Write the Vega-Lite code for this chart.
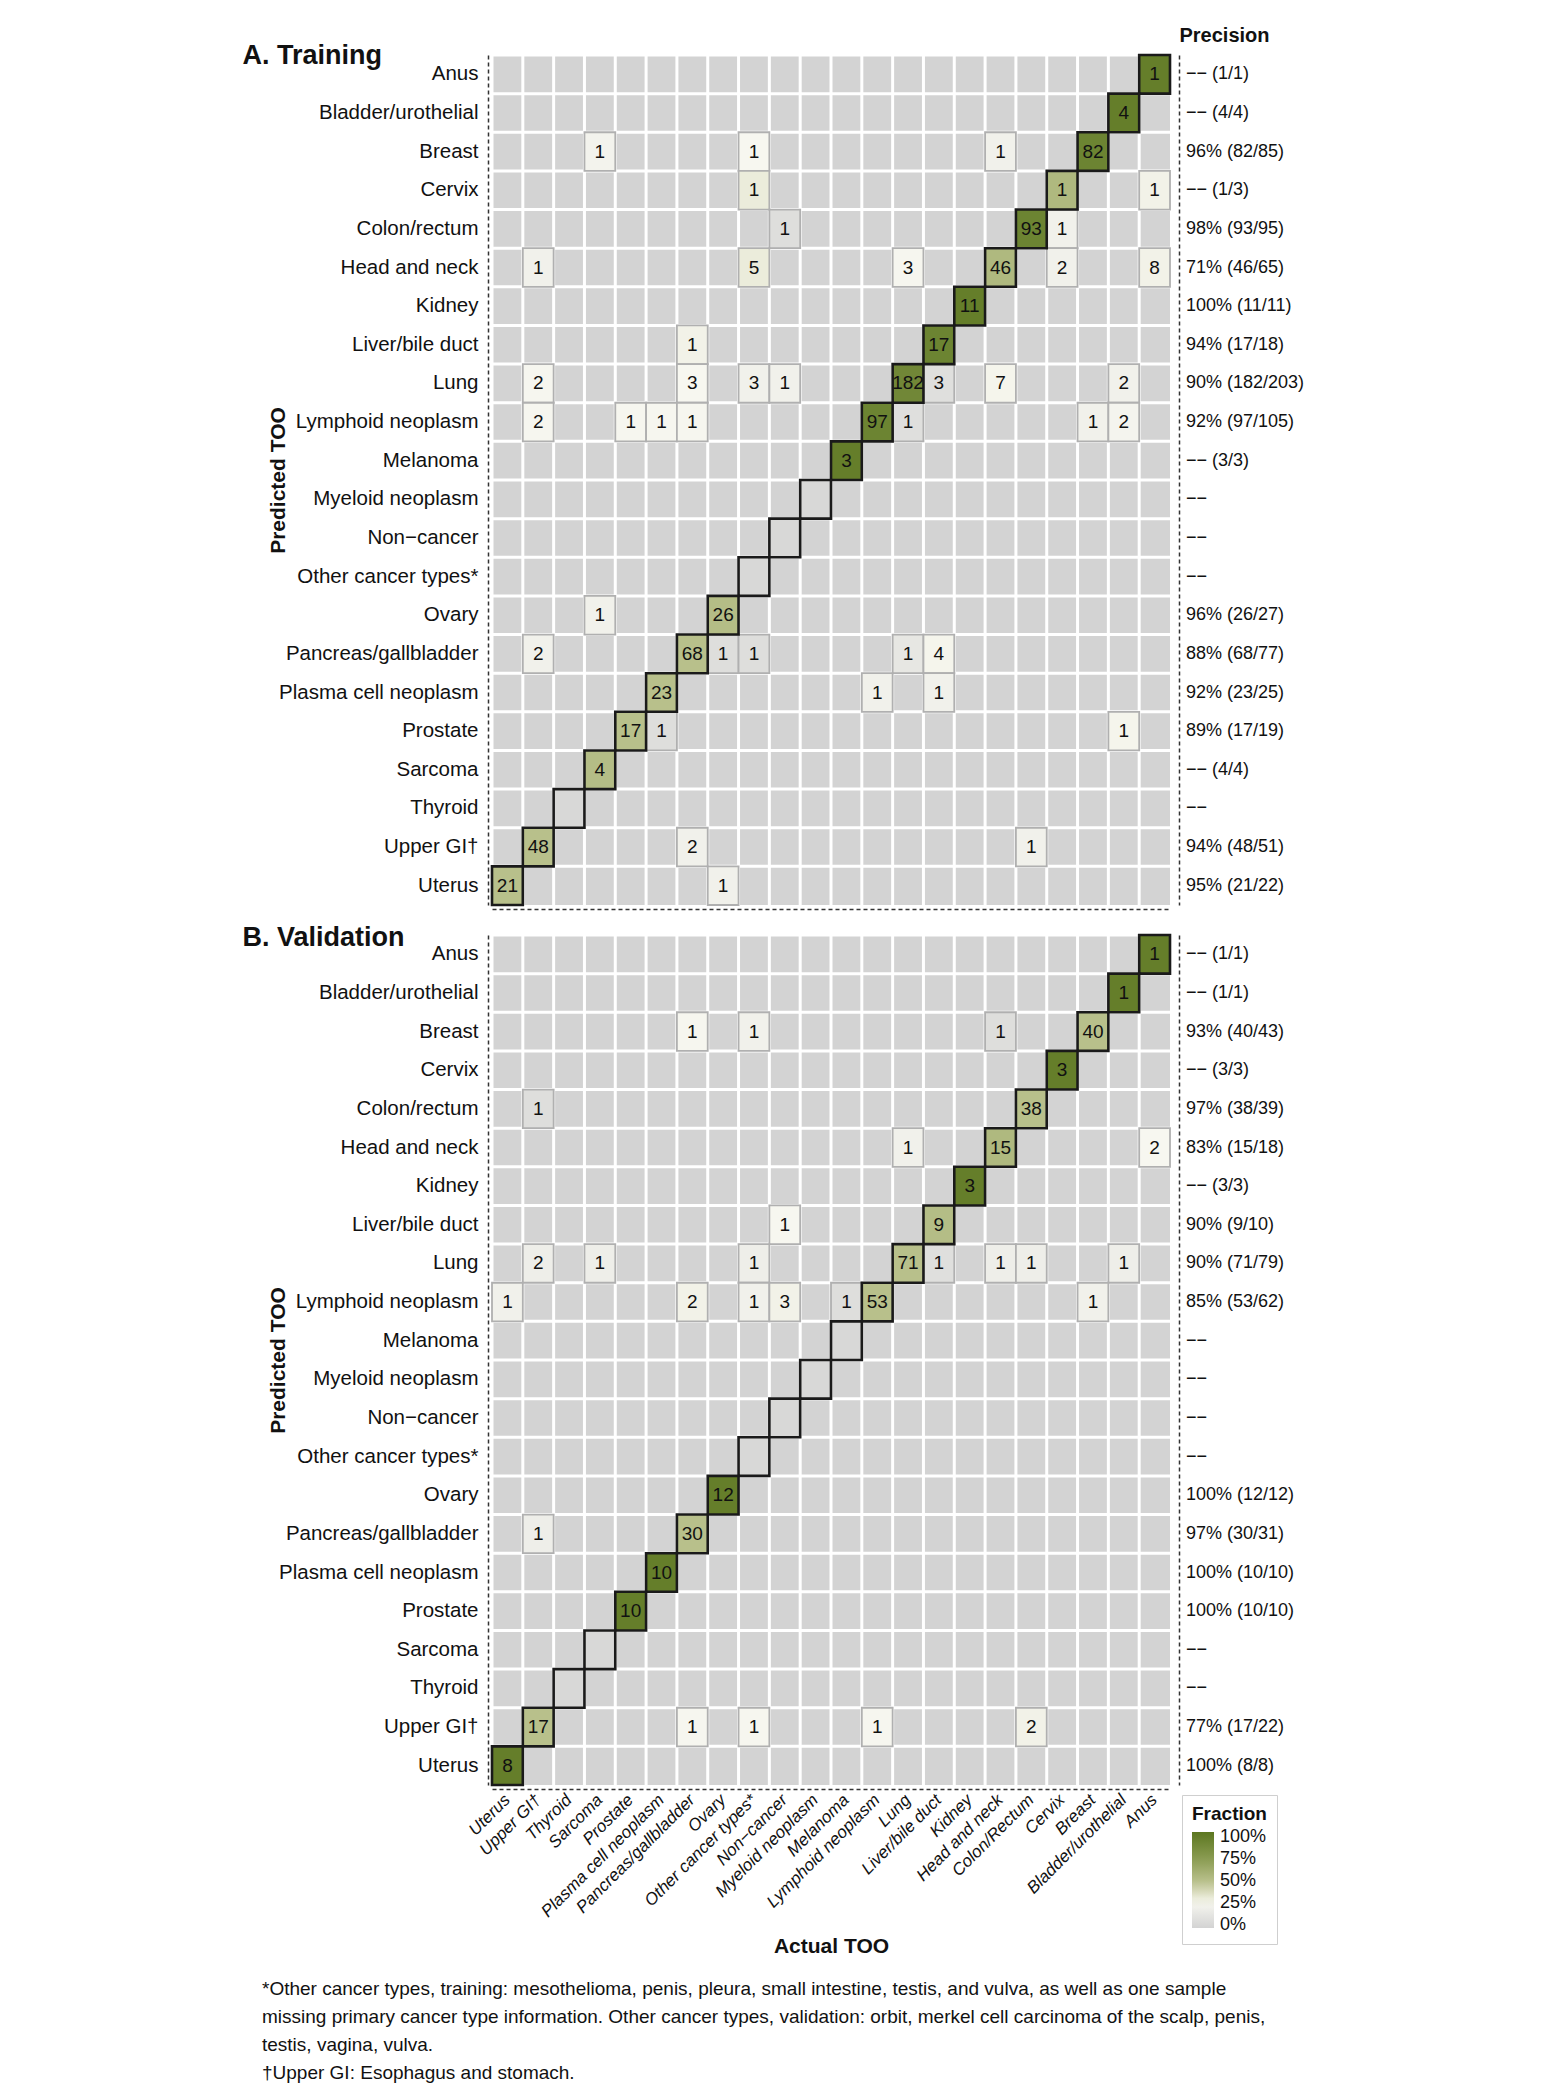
{
  "$schema": "https://vega.github.io/schema/vega-lite/v6.json",
  "padding": {"left": 242, "top": 25, "right": 0, "bottom": 0},
  "background": "white",
  "config": {
    "font": "Liberation Sans",
    "view": {"stroke": null},
    "axis": {"labelColor": "#111111", "titleColor": "#111111"},
    "text": {"color": "#111111"}
  },
  "datasets": {
    "cols": [
      {"actual": "Uterus"}, {"actual": "Upper GI†"}, {"actual": "Thyroid"}, {"actual": "Sarcoma"}, {"actual": "Prostate"}, {"actual": "Plasma cell neoplasm"}, {"actual": "Pancreas/gallbladder"}, {"actual": "Ovary"}, {"actual": "Other cancer types*"}, {"actual": "Non−cancer"}, {"actual": "Myeloid neoplasm"}, {"actual": "Melanoma"}, {"actual": "Lymphoid neoplasm"}, {"actual": "Lung"}, {"actual": "Liver/bile duct"}, {"actual": "Kidney"}, {"actual": "Head and neck"}, {"actual": "Colon/Rectum"}, {"actual": "Cervix"}, {"actual": "Breast"}, {"actual": "Bladder/urothelial"}, {"actual": "Anus"}
    ],
    "rows": [
      {"predicted": "Anus"}, {"predicted": "Bladder/urothelial"}, {"predicted": "Breast"}, {"predicted": "Cervix"}, {"predicted": "Colon/rectum"}, {"predicted": "Head and neck"}, {"predicted": "Kidney"}, {"predicted": "Liver/bile duct"}, {"predicted": "Lung"}, {"predicted": "Lymphoid neoplasm"}, {"predicted": "Melanoma"}, {"predicted": "Myeloid neoplasm"}, {"predicted": "Non−cancer"}, {"predicted": "Other cancer types*"}, {"predicted": "Ovary"}, {"predicted": "Pancreas/gallbladder"}, {"predicted": "Plasma cell neoplasm"}, {"predicted": "Prostate"}, {"predicted": "Sarcoma"}, {"predicted": "Thyroid"}, {"predicted": "Upper GI†"}, {"predicted": "Uterus"}
    ],
    "train": [
      {"predicted": "Anus", "actual": "Anus", "count": 1, "fraction": 1, "diag": true},
      {"predicted": "Bladder/urothelial", "actual": "Bladder/urothelial", "count": 4, "fraction": 1, "diag": true},
      {"predicted": "Breast", "actual": "Sarcoma", "count": 1, "fraction": 0.22, "diag": false},
      {"predicted": "Breast", "actual": "Other cancer types*", "count": 1, "fraction": 0.25, "diag": false},
      {"predicted": "Breast", "actual": "Head and neck", "count": 1, "fraction": 0.2, "diag": false},
      {"predicted": "Breast", "actual": "Breast", "count": 82, "fraction": 0.95, "diag": true},
      {"predicted": "Cervix", "actual": "Other cancer types*", "count": 1, "fraction": 0.3, "diag": false},
      {"predicted": "Cervix", "actual": "Cervix", "count": 1, "fraction": 0.55, "diag": true},
      {"predicted": "Cervix", "actual": "Anus", "count": 1, "fraction": 0.27, "diag": false},
      {"predicted": "Colon/rectum", "actual": "Non−cancer", "count": 1, "fraction": 0.05, "diag": false},
      {"predicted": "Colon/rectum", "actual": "Colon/Rectum", "count": 93, "fraction": 0.95, "diag": true},
      {"predicted": "Colon/rectum", "actual": "Cervix", "count": 1, "fraction": 0.2, "diag": false},
      {"predicted": "Head and neck", "actual": "Upper GI†", "count": 1, "fraction": 0.2, "diag": false},
      {"predicted": "Head and neck", "actual": "Other cancer types*", "count": 5, "fraction": 0.3, "diag": false},
      {"predicted": "Head and neck", "actual": "Lung", "count": 3, "fraction": 0.24, "diag": false},
      {"predicted": "Head and neck", "actual": "Head and neck", "count": 46, "fraction": 0.55, "diag": true},
      {"predicted": "Head and neck", "actual": "Cervix", "count": 2, "fraction": 0.2, "diag": false},
      {"predicted": "Head and neck", "actual": "Anus", "count": 8, "fraction": 0.27, "diag": false},
      {"predicted": "Kidney", "actual": "Kidney", "count": 11, "fraction": 1, "diag": true},
      {"predicted": "Liver/bile duct", "actual": "Pancreas/gallbladder", "count": 1, "fraction": 0.27, "diag": false},
      {"predicted": "Liver/bile duct", "actual": "Liver/bile duct", "count": 17, "fraction": 0.95, "diag": true},
      {"predicted": "Lung", "actual": "Upper GI†", "count": 2, "fraction": 0.24, "diag": false},
      {"predicted": "Lung", "actual": "Pancreas/gallbladder", "count": 3, "fraction": 0.25, "diag": false},
      {"predicted": "Lung", "actual": "Other cancer types*", "count": 3, "fraction": 0.2, "diag": false},
      {"predicted": "Lung", "actual": "Non−cancer", "count": 1, "fraction": 0.2, "diag": false},
      {"predicted": "Lung", "actual": "Lung", "count": 182, "fraction": 0.92, "diag": true},
      {"predicted": "Lung", "actual": "Liver/bile duct", "count": 3, "fraction": 0.06, "diag": false},
      {"predicted": "Lung", "actual": "Head and neck", "count": 7, "fraction": 0.26, "diag": false},
      {"predicted": "Lung", "actual": "Bladder/urothelial", "count": 2, "fraction": 0.2, "diag": false},
      {"predicted": "Lymphoid neoplasm", "actual": "Upper GI†", "count": 2, "fraction": 0.24, "diag": false},
      {"predicted": "Lymphoid neoplasm", "actual": "Prostate", "count": 1, "fraction": 0.24, "diag": false},
      {"predicted": "Lymphoid neoplasm", "actual": "Plasma cell neoplasm", "count": 1, "fraction": 0.24, "diag": false},
      {"predicted": "Lymphoid neoplasm", "actual": "Pancreas/gallbladder", "count": 1, "fraction": 0.24, "diag": false},
      {"predicted": "Lymphoid neoplasm", "actual": "Lymphoid neoplasm", "count": 97, "fraction": 0.95, "diag": true},
      {"predicted": "Lymphoid neoplasm", "actual": "Lung", "count": 1, "fraction": 0.06, "diag": false},
      {"predicted": "Lymphoid neoplasm", "actual": "Breast", "count": 1, "fraction": 0.2, "diag": false},
      {"predicted": "Lymphoid neoplasm", "actual": "Bladder/urothelial", "count": 2, "fraction": 0.23, "diag": false},
      {"predicted": "Melanoma", "actual": "Melanoma", "count": 3, "fraction": 1, "diag": true},
      {"predicted": "Myeloid neoplasm", "actual": "Myeloid neoplasm", "count": null, "fraction": 0, "diag": true},
      {"predicted": "Non−cancer", "actual": "Non−cancer", "count": null, "fraction": 0, "diag": true},
      {"predicted": "Other cancer types*", "actual": "Other cancer types*", "count": null, "fraction": 0, "diag": true},
      {"predicted": "Ovary", "actual": "Sarcoma", "count": 1, "fraction": 0.2, "diag": false},
      {"predicted": "Ovary", "actual": "Ovary", "count": 26, "fraction": 0.52, "diag": true},
      {"predicted": "Pancreas/gallbladder", "actual": "Upper GI†", "count": 2, "fraction": 0.2, "diag": false},
      {"predicted": "Pancreas/gallbladder", "actual": "Pancreas/gallbladder", "count": 68, "fraction": 0.5, "diag": true},
      {"predicted": "Pancreas/gallbladder", "actual": "Ovary", "count": 1, "fraction": 0.05, "diag": false},
      {"predicted": "Pancreas/gallbladder", "actual": "Other cancer types*", "count": 1, "fraction": 0.05, "diag": false},
      {"predicted": "Pancreas/gallbladder", "actual": "Lung", "count": 1, "fraction": 0.12, "diag": false},
      {"predicted": "Pancreas/gallbladder", "actual": "Liver/bile duct", "count": 4, "fraction": 0.26, "diag": false},
      {"predicted": "Plasma cell neoplasm", "actual": "Plasma cell neoplasm", "count": 23, "fraction": 0.5, "diag": true},
      {"predicted": "Plasma cell neoplasm", "actual": "Lymphoid neoplasm", "count": 1, "fraction": 0.2, "diag": false},
      {"predicted": "Plasma cell neoplasm", "actual": "Liver/bile duct", "count": 1, "fraction": 0.2, "diag": false},
      {"predicted": "Prostate", "actual": "Prostate", "count": 17, "fraction": 0.5, "diag": true},
      {"predicted": "Prostate", "actual": "Plasma cell neoplasm", "count": 1, "fraction": 0.05, "diag": false},
      {"predicted": "Prostate", "actual": "Bladder/urothelial", "count": 1, "fraction": 0.26, "diag": false},
      {"predicted": "Sarcoma", "actual": "Sarcoma", "count": 4, "fraction": 0.52, "diag": true},
      {"predicted": "Thyroid", "actual": "Thyroid", "count": null, "fraction": 0, "diag": true},
      {"predicted": "Upper GI†", "actual": "Upper GI†", "count": 48, "fraction": 0.5, "diag": true},
      {"predicted": "Upper GI†", "actual": "Pancreas/gallbladder", "count": 2, "fraction": 0.2, "diag": false},
      {"predicted": "Upper GI†", "actual": "Colon/Rectum", "count": 1, "fraction": 0.2, "diag": false},
      {"predicted": "Uterus", "actual": "Uterus", "count": 21, "fraction": 0.5, "diag": true},
      {"predicted": "Uterus", "actual": "Ovary", "count": 1, "fraction": 0.2, "diag": false}
    ],
    "val": [
      {"predicted": "Anus", "actual": "Anus", "count": 1, "fraction": 1, "diag": true},
      {"predicted": "Bladder/urothelial", "actual": "Bladder/urothelial", "count": 1, "fraction": 1, "diag": true},
      {"predicted": "Breast", "actual": "Pancreas/gallbladder", "count": 1, "fraction": 0.24, "diag": false},
      {"predicted": "Breast", "actual": "Other cancer types*", "count": 1, "fraction": 0.2, "diag": false},
      {"predicted": "Breast", "actual": "Head and neck", "count": 1, "fraction": 0.05, "diag": false},
      {"predicted": "Breast", "actual": "Breast", "count": 40, "fraction": 0.5, "diag": true},
      {"predicted": "Cervix", "actual": "Cervix", "count": 3, "fraction": 1, "diag": true},
      {"predicted": "Colon/rectum", "actual": "Upper GI†", "count": 1, "fraction": 0.05, "diag": false},
      {"predicted": "Colon/rectum", "actual": "Colon/Rectum", "count": 38, "fraction": 0.5, "diag": true},
      {"predicted": "Head and neck", "actual": "Lung", "count": 1, "fraction": 0.2, "diag": false},
      {"predicted": "Head and neck", "actual": "Head and neck", "count": 15, "fraction": 0.55, "diag": true},
      {"predicted": "Head and neck", "actual": "Anus", "count": 2, "fraction": 0.25, "diag": false},
      {"predicted": "Kidney", "actual": "Kidney", "count": 3, "fraction": 1, "diag": true},
      {"predicted": "Liver/bile duct", "actual": "Non−cancer", "count": 1, "fraction": 0.25, "diag": false},
      {"predicted": "Liver/bile duct", "actual": "Liver/bile duct", "count": 9, "fraction": 0.52, "diag": true},
      {"predicted": "Lung", "actual": "Upper GI†", "count": 2, "fraction": 0.18, "diag": false},
      {"predicted": "Lung", "actual": "Sarcoma", "count": 1, "fraction": 0.18, "diag": false},
      {"predicted": "Lung", "actual": "Other cancer types*", "count": 1, "fraction": 0.18, "diag": false},
      {"predicted": "Lung", "actual": "Lung", "count": 71, "fraction": 0.5, "diag": true},
      {"predicted": "Lung", "actual": "Liver/bile duct", "count": 1, "fraction": 0.06, "diag": false},
      {"predicted": "Lung", "actual": "Head and neck", "count": 1, "fraction": 0.18, "diag": false},
      {"predicted": "Lung", "actual": "Colon/Rectum", "count": 1, "fraction": 0.18, "diag": false},
      {"predicted": "Lung", "actual": "Bladder/urothelial", "count": 1, "fraction": 0.18, "diag": false},
      {"predicted": "Lymphoid neoplasm", "actual": "Uterus", "count": 1, "fraction": 0.2, "diag": false},
      {"predicted": "Lymphoid neoplasm", "actual": "Pancreas/gallbladder", "count": 2, "fraction": 0.27, "diag": false},
      {"predicted": "Lymphoid neoplasm", "actual": "Other cancer types*", "count": 1, "fraction": 0.2, "diag": false},
      {"predicted": "Lymphoid neoplasm", "actual": "Non−cancer", "count": 3, "fraction": 0.27, "diag": false},
      {"predicted": "Lymphoid neoplasm", "actual": "Melanoma", "count": 1, "fraction": 0.05, "diag": false},
      {"predicted": "Lymphoid neoplasm", "actual": "Lymphoid neoplasm", "count": 53, "fraction": 0.5, "diag": true},
      {"predicted": "Lymphoid neoplasm", "actual": "Breast", "count": 1, "fraction": 0.2, "diag": false},
      {"predicted": "Melanoma", "actual": "Melanoma", "count": null, "fraction": 0, "diag": true},
      {"predicted": "Myeloid neoplasm", "actual": "Myeloid neoplasm", "count": null, "fraction": 0, "diag": true},
      {"predicted": "Non−cancer", "actual": "Non−cancer", "count": null, "fraction": 0, "diag": true},
      {"predicted": "Other cancer types*", "actual": "Other cancer types*", "count": null, "fraction": 0, "diag": true},
      {"predicted": "Ovary", "actual": "Ovary", "count": 12, "fraction": 1, "diag": true},
      {"predicted": "Pancreas/gallbladder", "actual": "Upper GI†", "count": 1, "fraction": 0.18, "diag": false},
      {"predicted": "Pancreas/gallbladder", "actual": "Pancreas/gallbladder", "count": 30, "fraction": 0.5, "diag": true},
      {"predicted": "Plasma cell neoplasm", "actual": "Plasma cell neoplasm", "count": 10, "fraction": 1, "diag": true},
      {"predicted": "Prostate", "actual": "Prostate", "count": 10, "fraction": 1, "diag": true},
      {"predicted": "Sarcoma", "actual": "Sarcoma", "count": null, "fraction": 0, "diag": true},
      {"predicted": "Thyroid", "actual": "Thyroid", "count": null, "fraction": 0, "diag": true},
      {"predicted": "Upper GI†", "actual": "Upper GI†", "count": 17, "fraction": 0.5, "diag": true},
      {"predicted": "Upper GI†", "actual": "Pancreas/gallbladder", "count": 1, "fraction": 0.24, "diag": false},
      {"predicted": "Upper GI†", "actual": "Other cancer types*", "count": 1, "fraction": 0.24, "diag": false},
      {"predicted": "Upper GI†", "actual": "Lymphoid neoplasm", "count": 1, "fraction": 0.24, "diag": false},
      {"predicted": "Upper GI†", "actual": "Colon/Rectum", "count": 2, "fraction": 0.27, "diag": false},
      {"predicted": "Uterus", "actual": "Uterus", "count": 8, "fraction": 1, "diag": true}
    ],
    "ptrain": [
      {"predicted": "Anus", "column": "Precision", "precision": "−− (1/1)"},
      {"predicted": "Bladder/urothelial", "column": "Precision", "precision": "−− (4/4)"},
      {"predicted": "Breast", "column": "Precision", "precision": "96% (82/85)"},
      {"predicted": "Cervix", "column": "Precision", "precision": "−− (1/3)"},
      {"predicted": "Colon/rectum", "column": "Precision", "precision": "98% (93/95)"},
      {"predicted": "Head and neck", "column": "Precision", "precision": "71% (46/65)"},
      {"predicted": "Kidney", "column": "Precision", "precision": "100% (11/11)"},
      {"predicted": "Liver/bile duct", "column": "Precision", "precision": "94% (17/18)"},
      {"predicted": "Lung", "column": "Precision", "precision": "90% (182/203)"},
      {"predicted": "Lymphoid neoplasm", "column": "Precision", "precision": "92% (97/105)"},
      {"predicted": "Melanoma", "column": "Precision", "precision": "−− (3/3)"},
      {"predicted": "Myeloid neoplasm", "column": "Precision", "precision": "−−"},
      {"predicted": "Non−cancer", "column": "Precision", "precision": "−−"},
      {"predicted": "Other cancer types*", "column": "Precision", "precision": "−−"},
      {"predicted": "Ovary", "column": "Precision", "precision": "96% (26/27)"},
      {"predicted": "Pancreas/gallbladder", "column": "Precision", "precision": "88% (68/77)"},
      {"predicted": "Plasma cell neoplasm", "column": "Precision", "precision": "92% (23/25)"},
      {"predicted": "Prostate", "column": "Precision", "precision": "89% (17/19)"},
      {"predicted": "Sarcoma", "column": "Precision", "precision": "−− (4/4)"},
      {"predicted": "Thyroid", "column": "Precision", "precision": "−−"},
      {"predicted": "Upper GI†", "column": "Precision", "precision": "94% (48/51)"},
      {"predicted": "Uterus", "column": "Precision", "precision": "95% (21/22)"}
    ],
    "pval": [
      {"predicted": "Anus", "column": "Precision", "precision": "−− (1/1)"},
      {"predicted": "Bladder/urothelial", "column": "Precision", "precision": "−− (1/1)"},
      {"predicted": "Breast", "column": "Precision", "precision": "93% (40/43)"},
      {"predicted": "Cervix", "column": "Precision", "precision": "−− (3/3)"},
      {"predicted": "Colon/rectum", "column": "Precision", "precision": "97% (38/39)"},
      {"predicted": "Head and neck", "column": "Precision", "precision": "83% (15/18)"},
      {"predicted": "Kidney", "column": "Precision", "precision": "−− (3/3)"},
      {"predicted": "Liver/bile duct", "column": "Precision", "precision": "90% (9/10)"},
      {"predicted": "Lung", "column": "Precision", "precision": "90% (71/79)"},
      {"predicted": "Lymphoid neoplasm", "column": "Precision", "precision": "85% (53/62)"},
      {"predicted": "Melanoma", "column": "Precision", "precision": "−−"},
      {"predicted": "Myeloid neoplasm", "column": "Precision", "precision": "−−"},
      {"predicted": "Non−cancer", "column": "Precision", "precision": "−−"},
      {"predicted": "Other cancer types*", "column": "Precision", "precision": "−−"},
      {"predicted": "Ovary", "column": "Precision", "precision": "100% (12/12)"},
      {"predicted": "Pancreas/gallbladder", "column": "Precision", "precision": "97% (30/31)"},
      {"predicted": "Plasma cell neoplasm", "column": "Precision", "precision": "100% (10/10)"},
      {"predicted": "Prostate", "column": "Precision", "precision": "100% (10/10)"},
      {"predicted": "Sarcoma", "column": "Precision", "precision": "−−"},
      {"predicted": "Thyroid", "column": "Precision", "precision": "−−"},
      {"predicted": "Upper GI†", "column": "Precision", "precision": "77% (17/22)"},
      {"predicted": "Uterus", "column": "Precision", "precision": "100% (8/8)"}
    ]
  },
  "title": {
    "text": [
      "*Other cancer types, training: mesothelioma, penis, pleura, small intestine, testis, and vulva, as well as one sample",
      "missing primary cancer type information. Other cancer types, validation: orbit, merkel cell carcinoma of the scalp, penis,",
      "testis, vagina, vulva.",
      "†Upper GI: Esophagus and stomach."
    ],
    "orient": "bottom",
    "anchor": "start",
    "frame": "bounds",
    "fontSize": 19,
    "fontWeight": "normal",
    "lineHeight": 28,
    "offset": 23,
    "dx": 20,
    "color": "#111111"
  },
  "spacing": 14,
  "vconcat": [
    {
      "spacing": 7,
      "hconcat": [
        {
          "width": 678,
          "height": 850,
          "view": {"fill": "#d3d3d3", "stroke": null},
          "resolve": {"axis": {"x": "independent", "y": "independent"}},
          "layer": [
            {
              "data": {"name": "cols"},
              "mark": {"type": "rule", "color": "white", "strokeWidth": 3},
              "encoding": {
                "x": {"field": "actual", "type": "nominal", "bandPosition": 0,
                  "scale": {"type": "band", "domain": ["Uterus", "Upper GI†", "Thyroid", "Sarcoma", "Prostate", "Plasma cell neoplasm", "Pancreas/gallbladder", "Ovary", "Other cancer types*", "Non−cancer", "Myeloid neoplasm", "Melanoma", "Lymphoid neoplasm", "Lung", "Liver/bile duct", "Kidney", "Head and neck", "Colon/Rectum", "Cervix", "Breast", "Bladder/urothelial", "Anus"], "paddingInner": 0, "paddingOuter": 0},
                  "axis": {"orient": "bottom", "labels": false, "ticks": false, "title": null, "grid": false, "domain": true, "domainDash": [4, 3], "domainColor": "#333333", "domainWidth": 1.5, "offset": 4}}
              }
            },
            {
              "data": {"name": "rows"},
              "mark": {"type": "rule", "color": "white", "strokeWidth": 3},
              "encoding": {
                "y": {"field": "predicted", "type": "nominal", "bandPosition": 0,
                  "scale": {"type": "band", "domain": ["Anus", "Bladder/urothelial", "Breast", "Cervix", "Colon/rectum", "Head and neck", "Kidney", "Liver/bile duct", "Lung", "Lymphoid neoplasm", "Melanoma", "Myeloid neoplasm", "Non−cancer", "Other cancer types*", "Ovary", "Pancreas/gallbladder", "Plasma cell neoplasm", "Prostate", "Sarcoma", "Thyroid", "Upper GI†", "Uterus"], "paddingInner": 0, "paddingOuter": 0},
                  "axis": {"orient": "left", "title": "Predicted TOO", "titleFontSize": 21, "titleFontWeight": "bold", "titlePadding": 0, "labelFontSize": 20.5, "labelLimit": 0, "labelPadding": 10, "ticks": false, "grid": false, "domain": true, "domainDash": [4, 3], "domainColor": "#333333", "domainWidth": 1.5, "offset": 4}}
              }
            },
            {
              "data": {"name": "train"},
              "mark": {"type": "rect"},
              "encoding": {
                "x": {"field": "actual", "type": "nominal", "axis": null,
                  "scale": {"type": "band", "domain": ["Uterus", "Upper GI†", "Thyroid", "Sarcoma", "Prostate", "Plasma cell neoplasm", "Pancreas/gallbladder", "Ovary", "Other cancer types*", "Non−cancer", "Myeloid neoplasm", "Melanoma", "Lymphoid neoplasm", "Lung", "Liver/bile duct", "Kidney", "Head and neck", "Colon/Rectum", "Cervix", "Breast", "Bladder/urothelial", "Anus"], "paddingInner": 0, "paddingOuter": 0}},
                "y": {"field": "predicted", "type": "nominal", "axis": null,
                  "scale": {"type": "band", "domain": ["Anus", "Bladder/urothelial", "Breast", "Cervix", "Colon/rectum", "Head and neck", "Kidney", "Liver/bile duct", "Lung", "Lymphoid neoplasm", "Melanoma", "Myeloid neoplasm", "Non−cancer", "Other cancer types*", "Ovary", "Pancreas/gallbladder", "Plasma cell neoplasm", "Prostate", "Sarcoma", "Thyroid", "Upper GI†", "Uterus"], "paddingInner": 0, "paddingOuter": 0}},
                "color": {"field": "fraction", "type": "quantitative", "scale": {"domain": [-0.04, 0.25, 0.5, 0.75, 1.06], "range": ["#d3d3d3", "#f7f7f0", "#b8c08b", "#8a9c52", "#5c7720"]}},
                "stroke": {"condition": {"test": "datum.diag", "value": "#1a1a1a"}, "value": "#b0b0b0"},
                "strokeWidth": {"condition": {"test": "datum.diag", "value": 2.6}, "value": 1.8},
                "order": {"field": "diag"}
              }
            },
            {
              "data": {"name": "train"},
              "transform": [{"filter": "datum.count != null"}],
              "mark": {"type": "text", "fontSize": 19},
              "encoding": {
                "x": {"field": "actual", "type": "nominal",
                  "scale": {"type": "band", "domain": ["Uterus", "Upper GI†", "Thyroid", "Sarcoma", "Prostate", "Plasma cell neoplasm", "Pancreas/gallbladder", "Ovary", "Other cancer types*", "Non−cancer", "Myeloid neoplasm", "Melanoma", "Lymphoid neoplasm", "Lung", "Liver/bile duct", "Kidney", "Head and neck", "Colon/Rectum", "Cervix", "Breast", "Bladder/urothelial", "Anus"], "paddingInner": 0, "paddingOuter": 0},
                  "axis": {"orient": "top", "labels": false, "ticks": false, "domain": false, "grid": false, "title": "A. Training", "titleFontSize": 27, "titleFontWeight": "bold", "titleAnchor": "start", "titleAlign": "left", "titleBaseline": "alphabetic", "titleAngle": 0, "titleX": -250, "titleY": 8}},
                "y": {"field": "predicted", "type": "nominal", "axis": null,
                  "scale": {"type": "band", "domain": ["Anus", "Bladder/urothelial", "Breast", "Cervix", "Colon/rectum", "Head and neck", "Kidney", "Liver/bile duct", "Lung", "Lymphoid neoplasm", "Melanoma", "Myeloid neoplasm", "Non−cancer", "Other cancer types*", "Ovary", "Pancreas/gallbladder", "Plasma cell neoplasm", "Prostate", "Sarcoma", "Thyroid", "Upper GI†", "Uterus"], "paddingInner": 0, "paddingOuter": 0}},
                "text": {"field": "count", "type": "quantitative"}
              }
            }
          ]
        },
        {
          "width": 150,
          "height": 850,
          "data": {"name": "ptrain"},
          "mark": {"type": "text", "align": "left", "dx": 7, "fontSize": 18},
          "encoding": {
            "x": {"field": "column", "type": "nominal", "scale": {"type": "point", "padding": 0, "align": 0},
              "axis": {"orient": "top", "title": null, "ticks": false, "domain": false, "labelFontSize": 20, "labelFontWeight": "bold", "labelAlign": "left", "labelPadding": 10, "labelAngle": 0, "labelColor": "#111111"}},
            "y": {"field": "predicted", "type": "nominal",
              "scale": {"domain": ["Anus", "Bladder/urothelial", "Breast", "Cervix", "Colon/rectum", "Head and neck", "Kidney", "Liver/bile duct", "Lung", "Lymphoid neoplasm", "Melanoma", "Myeloid neoplasm", "Non−cancer", "Other cancer types*", "Ovary", "Pancreas/gallbladder", "Plasma cell neoplasm", "Prostate", "Sarcoma", "Thyroid", "Upper GI†", "Uterus"]},
              "axis": {"orient": "left", "title": null, "labels": false, "ticks": false, "grid": false, "domain": true, "domainDash": [4, 3], "domainColor": "#333333", "domainWidth": 1.5}},
            "text": {"field": "precision", "type": "nominal"}
          }
        }
      ]
    },
    {
      "spacing": 7,
      "hconcat": [
        {
          "width": 678,
          "height": 850,
          "view": {"fill": "#d3d3d3", "stroke": null},
          "resolve": {"axis": {"x": "independent", "y": "independent"}},
          "layer": [
            {
              "data": {"name": "cols"},
              "mark": {"type": "rule", "color": "white", "strokeWidth": 3},
              "encoding": {
                "x": {"field": "actual", "type": "nominal", "bandPosition": 0,
                  "scale": {"type": "band", "domain": ["Uterus", "Upper GI†", "Thyroid", "Sarcoma", "Prostate", "Plasma cell neoplasm", "Pancreas/gallbladder", "Ovary", "Other cancer types*", "Non−cancer", "Myeloid neoplasm", "Melanoma", "Lymphoid neoplasm", "Lung", "Liver/bile duct", "Kidney", "Head and neck", "Colon/Rectum", "Cervix", "Breast", "Bladder/urothelial", "Anus"], "paddingInner": 0, "paddingOuter": 0},
                  "axis": {"orient": "bottom", "title": "Actual TOO", "titleFontSize": 21, "titleFontWeight": "bold", "titlePadding": 16, "labelAngle": -45, "labelAlign": "right", "labelBaseline": "middle", "labelFontStyle": "italic", "labelFontSize": 17, "labelLimit": 0, "labelPadding": 8, "ticks": false, "grid": false, "domain": true, "domainDash": [4, 3], "domainColor": "#333333", "domainWidth": 1.5, "offset": 4}}
              }
            },
            {
              "data": {"name": "rows"},
              "mark": {"type": "rule", "color": "white", "strokeWidth": 3},
              "encoding": {
                "y": {"field": "predicted", "type": "nominal", "bandPosition": 0,
                  "scale": {"type": "band", "domain": ["Anus", "Bladder/urothelial", "Breast", "Cervix", "Colon/rectum", "Head and neck", "Kidney", "Liver/bile duct", "Lung", "Lymphoid neoplasm", "Melanoma", "Myeloid neoplasm", "Non−cancer", "Other cancer types*", "Ovary", "Pancreas/gallbladder", "Plasma cell neoplasm", "Prostate", "Sarcoma", "Thyroid", "Upper GI†", "Uterus"], "paddingInner": 0, "paddingOuter": 0},
                  "axis": {"orient": "left", "title": "Predicted TOO", "titleFontSize": 21, "titleFontWeight": "bold", "titlePadding": 0, "labelFontSize": 20.5, "labelLimit": 0, "labelPadding": 10, "ticks": false, "grid": false, "domain": true, "domainDash": [4, 3], "domainColor": "#333333", "domainWidth": 1.5, "offset": 4}}
              }
            },
            {
              "data": {"name": "val"},
              "mark": {"type": "rect"},
              "encoding": {
                "x": {"field": "actual", "type": "nominal", "axis": null,
                  "scale": {"type": "band", "domain": ["Uterus", "Upper GI†", "Thyroid", "Sarcoma", "Prostate", "Plasma cell neoplasm", "Pancreas/gallbladder", "Ovary", "Other cancer types*", "Non−cancer", "Myeloid neoplasm", "Melanoma", "Lymphoid neoplasm", "Lung", "Liver/bile duct", "Kidney", "Head and neck", "Colon/Rectum", "Cervix", "Breast", "Bladder/urothelial", "Anus"], "paddingInner": 0, "paddingOuter": 0}},
                "y": {"field": "predicted", "type": "nominal", "axis": null,
                  "scale": {"type": "band", "domain": ["Anus", "Bladder/urothelial", "Breast", "Cervix", "Colon/rectum", "Head and neck", "Kidney", "Liver/bile duct", "Lung", "Lymphoid neoplasm", "Melanoma", "Myeloid neoplasm", "Non−cancer", "Other cancer types*", "Ovary", "Pancreas/gallbladder", "Plasma cell neoplasm", "Prostate", "Sarcoma", "Thyroid", "Upper GI†", "Uterus"], "paddingInner": 0, "paddingOuter": 0}},
                "color": {"field": "fraction", "type": "quantitative", "scale": {"domain": [-0.04, 0.25, 0.5, 0.75, 1.06], "range": ["#d3d3d3", "#f7f7f0", "#b8c08b", "#8a9c52", "#5c7720"]},
                  "legend": {"orient": "none", "legendX": 690, "legendY": 1740, "direction": "vertical", "title": "Fraction", "titleFontSize": 19, "titleFontWeight": "bold", "titlePadding": 8, "labelFontSize": 18, "labelOffset": 6, "labelOverlap": false, "gradientLength": 96, "gradientThickness": 22, "values": [0, 0.25, 0.5, 0.75, 1], "format": ".0%", "padding": 10, "strokeColor": "#cfcfcf", "fillColor": "white", "labelColor": "#111111", "titleColor": "#111111"}},
                "stroke": {"condition": {"test": "datum.diag", "value": "#1a1a1a"}, "value": "#b0b0b0"},
                "strokeWidth": {"condition": {"test": "datum.diag", "value": 2.6}, "value": 1.8},
                "order": {"field": "diag"}
              }
            },
            {
              "data": {"name": "val"},
              "transform": [{"filter": "datum.count != null"}],
              "mark": {"type": "text", "fontSize": 19},
              "encoding": {
                "x": {"field": "actual", "type": "nominal",
                  "scale": {"type": "band", "domain": ["Uterus", "Upper GI†", "Thyroid", "Sarcoma", "Prostate", "Plasma cell neoplasm", "Pancreas/gallbladder", "Ovary", "Other cancer types*", "Non−cancer", "Myeloid neoplasm", "Melanoma", "Lymphoid neoplasm", "Lung", "Liver/bile duct", "Kidney", "Head and neck", "Colon/Rectum", "Cervix", "Breast", "Bladder/urothelial", "Anus"], "paddingInner": 0, "paddingOuter": 0},
                  "axis": {"orient": "top", "labels": false, "ticks": false, "domain": false, "grid": false, "title": "B. Validation", "titleFontSize": 27, "titleFontWeight": "bold", "titleAnchor": "start", "titleAlign": "left", "titleBaseline": "alphabetic", "titleAngle": 0, "titleX": -250, "titleY": 10}},
                "y": {"field": "predicted", "type": "nominal", "axis": null,
                  "scale": {"type": "band", "domain": ["Anus", "Bladder/urothelial", "Breast", "Cervix", "Colon/rectum", "Head and neck", "Kidney", "Liver/bile duct", "Lung", "Lymphoid neoplasm", "Melanoma", "Myeloid neoplasm", "Non−cancer", "Other cancer types*", "Ovary", "Pancreas/gallbladder", "Plasma cell neoplasm", "Prostate", "Sarcoma", "Thyroid", "Upper GI†", "Uterus"], "paddingInner": 0, "paddingOuter": 0}},
                "text": {"field": "count", "type": "quantitative"}
              }
            }
          ]
        },
        {
          "width": 150,
          "height": 850,
          "data": {"name": "pval"},
          "mark": {"type": "text", "align": "left", "dx": 7, "fontSize": 18},
          "encoding": {
            "x": {"field": "column", "type": "nominal", "scale": {"type": "point", "padding": 0, "align": 0}, "axis": null},
            "y": {"field": "predicted", "type": "nominal",
              "scale": {"domain": ["Anus", "Bladder/urothelial", "Breast", "Cervix", "Colon/rectum", "Head and neck", "Kidney", "Liver/bile duct", "Lung", "Lymphoid neoplasm", "Melanoma", "Myeloid neoplasm", "Non−cancer", "Other cancer types*", "Ovary", "Pancreas/gallbladder", "Plasma cell neoplasm", "Prostate", "Sarcoma", "Thyroid", "Upper GI†", "Uterus"]},
              "axis": {"orient": "left", "title": null, "labels": false, "ticks": false, "grid": false, "domain": true, "domainDash": [4, 3], "domainColor": "#333333", "domainWidth": 1.5}},
            "text": {"field": "precision", "type": "nominal"}
          }
        }
      ]
    }
  ]
}
